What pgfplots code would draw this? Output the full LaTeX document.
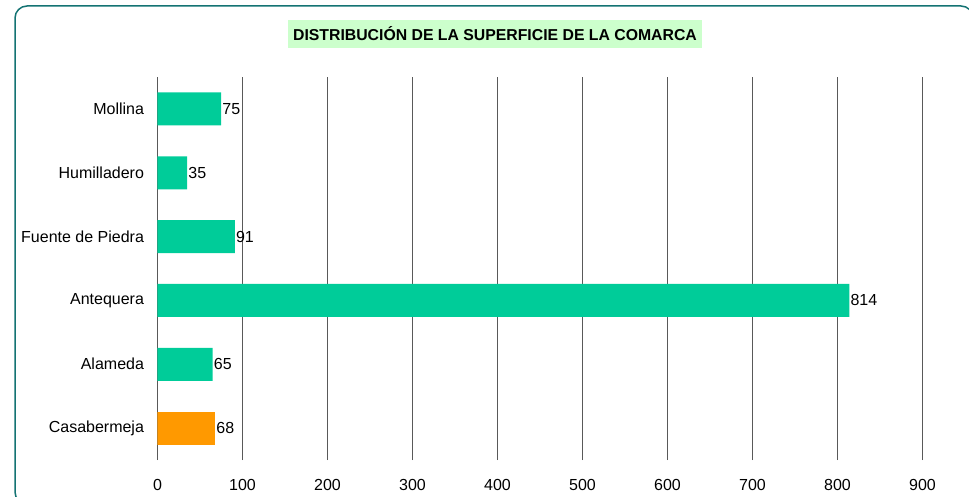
\documentclass[border=0pt]{standalone}
\usepackage{pgfplots}
\pgfplotsset{compat=1.18}
\usepackage{fontspec}
\setmainfont{Liberation Sans}
\definecolor{barg}{RGB}{0,204,153}
\definecolor{baro}{RGB}{255,153,0}
\definecolor{ttlbg}{RGB}{204,255,204}
\definecolor{frame}{RGB}{20,115,115}
\begin{document}
\begin{tikzpicture}[x=1pt,y=1pt]
\fontsize{16}{19}\selectfont
\path[use as bounding box] (0,0) rectangle (969,496);
\begin{scope}
\clip (0,0) rectangle (969,496);
\draw[frame, line width=1.5pt, rounded corners=12pt] (15,-8) rectangle (973,490);
\end{scope}
\node[fill=ttlbg, minimum width=414pt, minimum height=28pt, inner sep=0pt, font=\fontsize{15.8}{18}\selectfont\bfseries] at (495,462) {DISTRIBUCIÓN DE LA SUPERFICIE DE LA COMARCA};
\begin{axis}[
  at={(157.5pt,36pt)}, anchor=south west,
  scale only axis, width=765pt, height=383pt,
  xbar, bar width=33pt,
  xmin=0, xmax=900, ymin=-0.5, ymax=5.5,
  xtick={0,100,...,900},
  ytick={0,1,2,3,4,5},
  yticklabels={Casabermeja,Alameda,Antequera,Fuente de Piedra,Humilladero,Mollina},
  axis line style={draw=none},
  major tick length=0pt,
  xmajorgrids, grid style={gray!70!black, line width=1pt},
  tick label style={font=\fontsize{16}{19}\selectfont},
  /pgf/number format/assume math mode=true,
  xticklabel style={yshift=-14pt},
  yticklabel style={xshift=-8pt},
  nodes near coords, point meta=x,
  every node near coord/.append style={font=\fontsize{16}{19}\selectfont, inner sep=1pt, black},
]
\addplot[fill=barg, draw=none, bar shift=0pt] coordinates {(65,1) (814,2) (91,3) (35,4) (75,5)};
\addplot[fill=baro, draw=none, bar shift=0pt] coordinates {(68,0)};
\end{axis}
\end{tikzpicture}
\end{document}
